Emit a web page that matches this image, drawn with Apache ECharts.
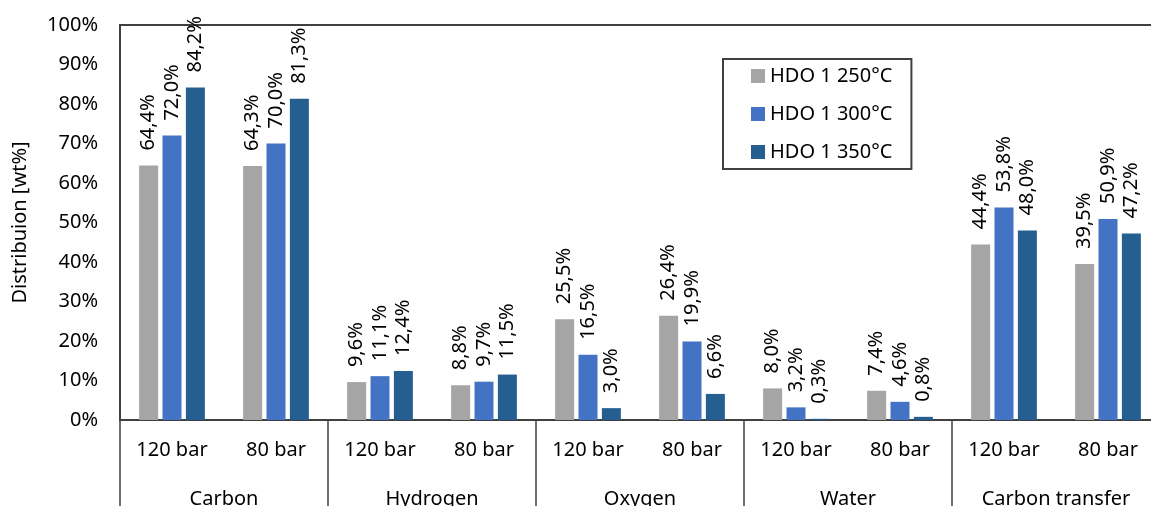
<!DOCTYPE html>
<html>
<head>
<meta charset="utf-8">
<script src="https://cdn.jsdelivr.net/npm/echarts@6/dist/echarts.min.js"></script>
<style>
  html, body { margin: 0; padding: 0; background: #fff; }
  #chart { width: 1151px; height: 506px; }
</style>
</head>
<body>
<div id="chart"></div>
<script>
// Pressure levels inside each element group
const pressures = ['120 bar', '80 bar', '120 bar', '80 bar', '120 bar', '80 bar', '120 bar', '80 bar', '120 bar', '80 bar'];
// Element groups (outer axis level)
const groups = ['Carbon', 'Hydrogen', 'Oxygen', 'Water', 'Carbon transfer'];
const seriesNames = ['HDO 1 250°C', 'HDO 1 300°C', 'HDO 1 350°C'];

// Distribution values in wt%
const hdo250 = [64.4, 64.3, 9.6, 8.8, 25.5, 26.4, 8.0, 7.4, 44.4, 39.5];
const hdo300 = [72.0, 70.0, 11.1, 9.7, 16.5, 19.9, 3.2, 4.6, 53.8, 50.9];
const hdo350 = [84.2, 81.3, 12.4, 11.5, 3.0, 6.6, 0.3, 0.8, 48.0, 47.2];

const colors = ['#A5A5A5', '#4472C4', '#255E91'];
const font = 'Noto Sans';
const lineColor = '#404040';

const chart = echarts.init(document.getElementById('chart'), null, { renderer: 'canvas' });

function barSeries(name, data, color) {
  return {
    name: name,
    type: 'bar',
    xAxisIndex: 0,
    data: data,
    barWidth: 19,
    barGap: '23%',
    itemStyle: { color: color },
    label: {
      show: true,
      position: 'top',
      rotate: 90,
      align: 'left',
      verticalAlign: 'middle',
      distance: 15,
      fontFamily: font,
      fontSize: 20,
      color: '#000',
      formatter: p => p.value.toFixed(1).replace('.', ',') + '%'
    }
  };
}

chart.setOption({
  animation: false,
  backgroundColor: '#fff',
  textStyle: { fontFamily: font },
  grid: {
    left: 120, top: 25, width: 1040, height: 395,
    show: true, borderColor: lineColor, borderWidth: 2,
    containLabel: false,
    outerBoundsMode: 'none'
  },
  legend: {
    orient: 'vertical',
    left: 723, top: 59,
    data: seriesNames,
    icon: 'rect',
    itemWidth: 14, itemHeight: 14,
    itemGap: 18,
    padding: [7, 19, 7, 28],
    borderColor: lineColor,
    borderWidth: 2,
    backgroundColor: '#fff',
    textStyle: { fontFamily: font, fontSize: 20, color: '#000', lineHeight: 20 }
  },
  xAxis: [
    {
      type: 'category',
      data: pressures,
      position: 'bottom',
      axisLine: { show: true, lineStyle: { color: lineColor, width: 2 } },
      axisTick: { show: false },
      axisLabel: { interval: 0, margin: 20, fontFamily: font, fontSize: 20, color: '#000' }
    },
    {
      type: 'category',
      data: groups,
      position: 'bottom',
      offset: 0,
      axisLine: { show: false },
      axisTick: { show: true, length: 90, interval: 0, lineStyle: { color: lineColor, width: 1.5 } },
      axisLabel: { interval: 0, margin: 69, fontFamily: font, fontSize: 20, color: '#000' }
    }
  ],
  yAxis: {
    type: 'value',
    min: 0, max: 100, interval: 10,
    name: 'Distribuion [wt%]',
    nameLocation: 'middle',
    nameGap: 90,
    nameTextStyle: { fontFamily: font, fontSize: 20, color: '#000' },
    axisLine: { show: true, lineStyle: { color: lineColor, width: 2 } },
    axisTick: { show: false },
    splitLine: { show: false },
    axisLabel: { margin: 22, fontFamily: font, fontSize: 20, color: '#000', formatter: '{value}%' }
  },
  series: [
    barSeries(seriesNames[0], hdo250, colors[0]),
    barSeries(seriesNames[1], hdo300, colors[1]),
    barSeries(seriesNames[2], hdo350, colors[2])
  ]
});
</script>
</body>
</html>
